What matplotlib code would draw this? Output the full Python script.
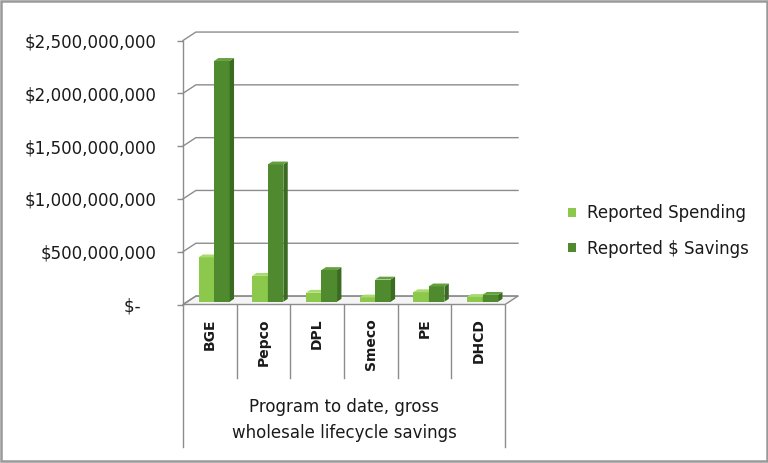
import matplotlib
matplotlib.use("Agg")

import matplotlib.pyplot as plt
import matplotlib.transforms as mtransforms
from matplotlib.patches import Patch, Polygon, Rectangle
from matplotlib.ticker import FuncFormatter
import numpy as np

# ── data ──────────────────────────────────────────────
categories = ["BGE", "Pepco", "DPL", "Smeco", "PE", "DHCD"]
spending = [4.2e8, 2.45e8, 0.85e8, 0.4e8, 0.9e8, 0.45e8]
savings = [2.28e9, 1.30e9, 0.30e9, 0.21e9, 0.145e9, 0.065e9]
series_names = ["Reported Spending", "Reported $ Savings"]
y_ticks = [0, 5e8, 1e9, 1.5e9, 2e9, 2.5e9]
group_label = "Program to date, gross\nwholesale lifecycle savings"

# ── style ─────────────────────────────────────────────
W, H = 768, 463
GRID = "#8c8c8c"
TEXT = "#1a1a1a"
COLORS = [
    # front, side, top
    ("#8cc84b", "#6fa63a", "#a8da70"),
    ("#4f8b2e", "#3a6b20", "#64a03e"),
]
DX, DY = 0.24, 8.0e7      # depth offset of the 3D box (data units)
BAR_W = 0.29
FRONT, DEPTH = 0.33, 0.34  # bar position / depth as fraction of box depth


def fy(px):
    return 1 - px / H


fig = plt.figure(figsize=(W / 100, H / 100), dpi=100)
ax = fig.add_axes([183 / W, fy(304.5), (518 - 183) / W, (304.5 - 31) / H])
n = len(categories)
ax.set_xlim(-0.5, n - 0.5 + DX)
ax.set_ylim(0, 2.5e9 * (304.5 - 31) / (304.5 - 40.5))
ax.patch.set_visible(False)

for side in ("top", "right", "bottom"):
    ax.spines[side].set_visible(False)
ax.spines["left"].set_bounds(0, 2.5e9)
ax.spines["left"].set_color(GRID)
ax.spines["left"].set_linewidth(1.0)
ax.set_xticks([])
ax.set_yticks(y_ticks)
# accounting style: zero shown as "$-" with trailing padding
ax.yaxis.set_major_formatter(
    FuncFormatter(lambda v, _: "$-   " if v == 0 else f"${v:,.0f}"))
ax.tick_params(axis="y", length=4, width=1.0, color=GRID, pad=15,
               labelsize=12, labelcolor=TEXT)

# floor
x0, x1 = -0.5, n - 0.5
ax.add_patch(Polygon([(x0, 0), (x1, 0), (x1 + DX, DY), (x0 + DX, DY)],
                     closed=True, facecolor="#f4f4f4", edgecolor=GRID,
                     lw=1.0, zorder=1, clip_on=False))

# gridlines on left + back wall
for v in y_ticks:
    ax.plot([x0, x0 + DX, x1 + DX], [v, v + DY, v + DY], color=GRID,
            lw=1.0, zorder=1, clip_on=False)

# bars with side and top faces
xs = np.arange(n)
for s, vals in enumerate([spending, savings]):
    front, side, top = COLORS[s]
    left = xs - BAR_W + s * BAR_W + FRONT * DX
    base = FRONT * DY
    ax.bar(left, vals, width=BAR_W, bottom=base, align="edge",
           color=front, edgecolor="none", zorder=3 + s, clip_on=False)
    for xl, v in zip(left, vals):
        xr = xl + BAR_W
        ddx, ddy = DEPTH * DX, DEPTH * DY
        ax.add_patch(Polygon([(xr, base), (xr, base + v), (xr + ddx, base + v + ddy),
                              (xr + ddx, base + ddy)], closed=True,
                             facecolor=side, edgecolor="none", zorder=3 + s,
                             clip_on=False))
        ax.add_patch(Polygon([(xl, base + v), (xr, base + v), (xr + ddx, base + v + ddy),
                              (xl + ddx, base + v + ddy)], closed=True,
                             facecolor=top, edgecolor="none", zorder=3 + s,
                             clip_on=False))

# category axis box below the floor
trans = mtransforms.blended_transform_factory(ax.transData, fig.transFigure)
for i in range(n + 1):
    bottom_px = 447 if i in (0, n) else 378
    ax.plot([i - 0.5, i - 0.5], [fy(304.5), fy(bottom_px)], transform=trans,
            color=GRID, lw=1.0, clip_on=False)
for i, name in enumerate(categories):
    ax.text(i, fy(318), name, transform=trans, rotation=90, ha="center",
            va="top", fontsize=10, fontweight="bold", color=TEXT)
ax.text((n - 1) / 2, fy(420), group_label, transform=trans, ha="center",
        va="center", fontsize=12, color=TEXT, linespacing=1.55)

# legend
handles = [Patch(facecolor=COLORS[k][0], edgecolor="none") for k in range(2)]
fig.legend(handles, series_names, loc="center left",
           bbox_to_anchor=(553 / W, fy(231)), frameon=False, fontsize=12,
           handlelength=0.45, handleheight=0.45, handletextpad=0.7,
           labelspacing=1.05, labelcolor=TEXT)

# outer frame
fig.add_artist(Rectangle((0.5 / W, 2.5 / H), 1 - 1.5 / W, 1 - 3.5 / H,
                         transform=fig.transFigure, fill=False,
                         edgecolor="#999999", lw=1.8))

fig.savefig("out.png", dpi=100)
